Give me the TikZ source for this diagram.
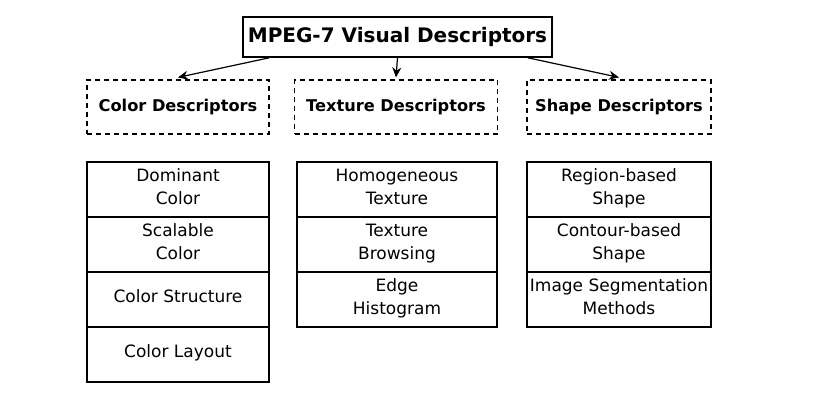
\documentclass[tikz,border=0pt]{standalone}
\usepackage{fontspec}
\setmainfont{DejaVu Sans}
\usetikzlibrary{positioning,arrows.meta}

\tikzset{
  mainbox/.style={draw, line width=1.6pt, minimum width=309pt, minimum height=40pt,
    inner sep=2pt, font=\bfseries\fontsize{20}{24}\selectfont},
  groupbox/.style={draw, line width=1.2pt, dash pattern=on 5pt off 4pt,
    minimum height=54pt, inner sep=2pt, font=\bfseries\fontsize{16.2}{19}\selectfont},
  itembox/.style={draw, line width=1.2pt, minimum height=55pt, align=center,
    inner sep=1pt, outer sep=0pt, text depth=6pt, font=\fontsize{17}{23}\selectfont},
  link/.style={-{Stealth[length=10pt,width=9pt]}, line width=1.2pt},
}

\begin{document}
\begin{tikzpicture}[x=1pt,y=-1pt]
\useasboundingbox (0,0) rectangle (833,414);

\node (mpeg) [mainbox] at (397.5,37) {MPEG-7 Visual Descriptors};

\node (color-desc) [groupbox, minimum width=182pt] at (178,107) {Color Descriptors};
\node (texture-desc) [groupbox, minimum width=203pt] at (396,107) {Texture Descriptors};
\node (shape-desc) [groupbox, minimum width=184pt] at (619,107) {Shape Descriptors};

\draw[link] ([xshift=27pt]mpeg.south west) -- ([yshift=2pt]color-desc.north);
\draw[link] (mpeg.south) -- ([yshift=2pt]texture-desc.north);
\draw[link] ([xshift=-25pt]mpeg.south east) -- ([yshift=2pt]shape-desc.north);

 \begin{scope}[every node/.append style={itembox, minimum width=182pt}]
\node (color-item1) [anchor=north] at (178,162) {Dominant\\Color};
\node (color-item2) [below=0pt of color-item1] {Scalable\\Color};
\node (color-item3) [below=0pt of color-item2] {Color Structure};
\node (color-item4) [below=0pt of color-item3] {Color Layout};
\end{scope}

 \begin{scope}[every node/.append style={itembox, minimum width=200pt}]
\node (texture-item1) [anchor=north] at (397,162) {Homogeneous\\Texture};
\node (texture-item2) [below=0pt of texture-item1] {Texture\\Browsing};
\node (texture-item3) [below=0pt of texture-item2] {Edge\\Histogram};
\end{scope}

 \begin{scope}[every node/.append style={itembox, minimum width=184pt}]
\node (shape-item1) [anchor=north] at (619,162) {Region-based\\Shape};
\node (shape-item2) [below=0pt of shape-item1] {Contour-based\\Shape};
\node (shape-item3) [below=0pt of shape-item2] {Image Segmentation\\Methods};
\end{scope}
\end{tikzpicture}
\end{document}
